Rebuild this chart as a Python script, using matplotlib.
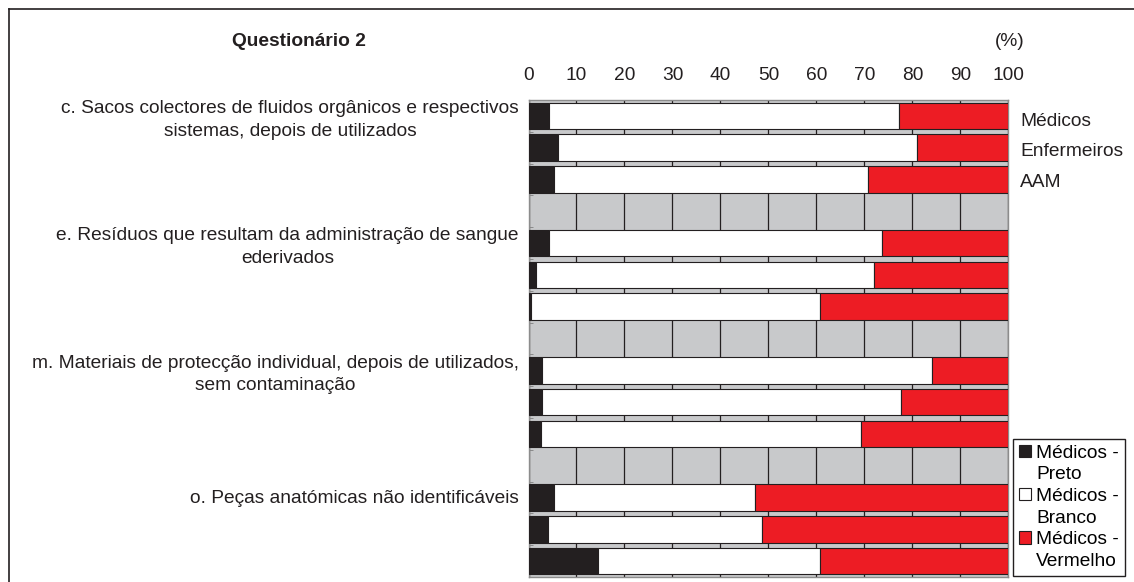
import matplotlib.pyplot as plt
from matplotlib.lines import Line2D
from matplotlib.patches import Patch
from matplotlib.ticker import FixedLocator

plt.rcParams["font.family"] = ["Liberation Sans", "DejaVu Sans"]

# Questionnaire items (one group of three bars each)
items = [
    "c. Sacos colectores de fluidos orgânicos e respectivos\nsistemas, depois de utilizados",
    "e. Resíduos que resultam da administração de sangue\nederivados",
    "m. Materiais de protecção individual, depois de utilizados,\nsem contaminação",
    "o. Peças anatómicas não identificáveis",
]
professions = ["Médicos", "Enfermeiros", "AAM"]

# Percentages per bar, in order c(Méd, Enf, AAM), e(...), m(...), o(...)
preto = [4.2, 6.1, 5.4, 4.2, 1.6, 0.5, 2.9, 2.9, 2.6, 5.4, 4.1, 14.5]
branco = [73.1, 74.9, 65.3, 69.5, 70.5, 60.3, 81.2, 74.8, 66.8, 41.8, 44.6, 46.3]
vermelho = [22.7, 19.0, 29.3, 26.3, 27.9, 39.2, 15.9, 22.3, 30.6, 52.8, 51.3, 39.2]

legend_labels = ["Médicos -", "Preto", "Médicos -", "Branco", "Médicos -", "Vermelho"]
x_ticks = list(range(0, 101, 10))

C_BLACK = "#231f20"
C_RED = "#ed1c24"
C_GRAY = "#c8c9cb"
FS = 13.8

W, H = 1134, 582
fig = plt.figure(figsize=(W / 100, H / 100), dpi=100)
fig.patch.set_facecolor("white")

# plot area in pixels: x 528..1008, y 100..577
ax = fig.add_axes([528.5 / W, 1 - 577 / H, (1008.3 - 528.5) / W, (577 - 100) / H])
ax.set_facecolor(C_GRAY)

# each item takes three rows plus one empty spacer row
rows = [4 * g + p for g in range(len(items)) for p in range(len(professions))]
left2 = [a + b for a, b in zip(preto, branco)]

bar_kw = dict(height=0.84, edgecolor=C_BLACK, linewidth=0.8, zorder=3)
ax.barh(rows, preto, color=C_BLACK, **bar_kw)
ax.barh(rows, branco, left=preto, color="white", **bar_kw)
ax.barh(rows, vermelho, left=left2, color=C_RED, **bar_kw)

ax.set_xlim(0, 100)
ax.set_ylim(14.5, -0.5)

# vertical grid
ax.set_xticks(x_ticks)
ax.grid(axis="x", color=C_BLACK, linewidth=0.9, zorder=1)
ax.set_axisbelow(True)
ax.xaxis.tick_top()
ax.tick_params(axis="x", length=0, pad=11.5, labelsize=FS, colors=C_BLACK)

ax.set_yticks([])
ax.yaxis.set_minor_locator(FixedLocator([k + 0.5 for k in range(-1, 15)]))
ax.tick_params(axis="y", which="minor", length=3, direction="in", color="#808080")

for s in ax.spines.values():
    s.set_color("#8c8c8c")
    s.set_linewidth(1.0)

# item labels at the first row of each group
for g, txt in enumerate(items):
    dy = -3 if "\n" in txt else -0.5
    ax.annotate(txt, xy=(0, 4 * g), xycoords=("axes fraction", "data"),
                xytext=(-7, dy), textcoords="offset points",
                ha="right", va="center", multialignment="center",
                fontsize=FS, linespacing=1.45, color=C_BLACK)

# profession names beside the first group
for p, name in enumerate(professions):
    ax.annotate(name, xy=(1, rows[p]), xycoords=("axes fraction", "data"),
                xytext=(8.5, -3.7 + 0.85 * p), textcoords="offset points",
                ha="left", va="center", fontsize=FS, color=C_BLACK)

fig.text(232 / W, 1 - 41 / H, "Questionário 2", fontsize=FS, fontweight="bold",
         ha="left", va="center", color=C_BLACK)
fig.text(995 / W, 1 - 41 / H, "(%)", fontsize=FS, ha="left", va="center",
         color=C_BLACK)

# legend: second line of each label as a handle-less entry
blank = Patch(visible=False)
handles = [
    Patch(facecolor=C_BLACK, edgecolor=C_BLACK, linewidth=0.8), blank,
    Patch(facecolor="white", edgecolor=C_BLACK, linewidth=0.8), blank,
    Patch(facecolor=C_RED, edgecolor=C_BLACK, linewidth=0.8), blank,
]
leg = ax.legend(handles, legend_labels, loc="upper left",
                bbox_to_anchor=(1013 / W, 1 - 439 / H), bbox_transform=fig.transFigure,
                fontsize=FS, frameon=True, fancybox=False, framealpha=1,
                handlelength=0.62, handleheight=0.62, handletextpad=0.3,
                labelspacing=0.24, borderpad=0.3, borderaxespad=0)
leg.get_frame().set_edgecolor(C_BLACK)
leg.get_frame().set_linewidth(1.0)
leg.set_zorder(5)

# outer frame: only the top and left edges fall inside the image
x0, y0 = 8.5 / W, 1 - 8.5 / H
fig.add_artist(Line2D([x0, 1.0], [y0, y0], transform=fig.transFigure,
                      color=C_BLACK, linewidth=1.2))
fig.add_artist(Line2D([x0, x0], [0.0, y0], transform=fig.transFigure,
                      color=C_BLACK, linewidth=1.2))

fig.savefig("out.png", dpi=100)
